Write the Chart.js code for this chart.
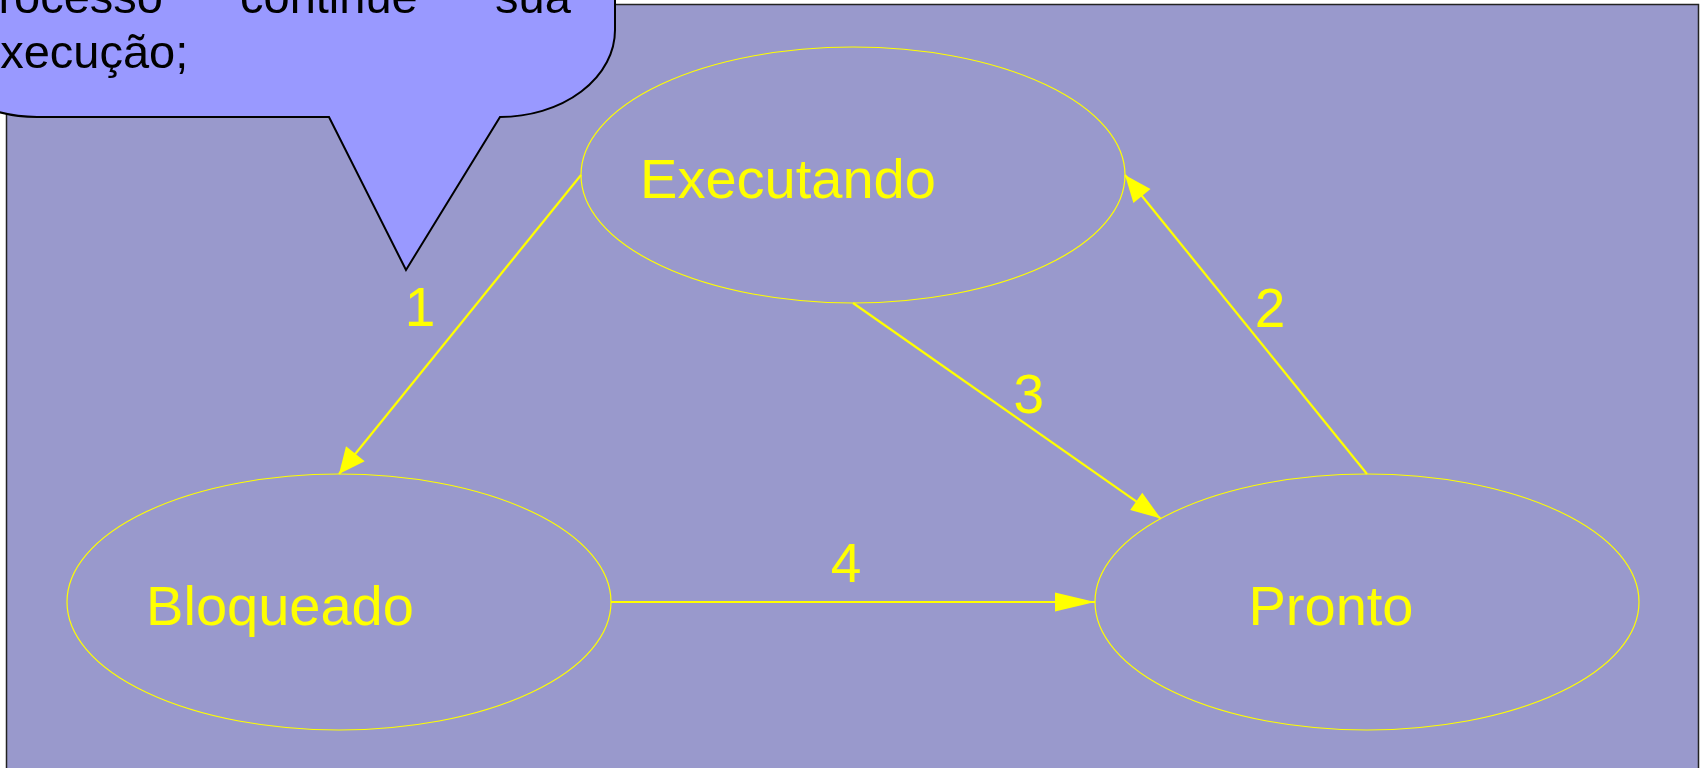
<!DOCTYPE html>
<html>
<head>
<meta charset="utf-8">
<script src="https://cdn.jsdelivr.net/npm/chart.js@4.4.1/dist/chart.umd.min.js"></script>
<style>
  html, body { margin: 0; padding: 0; background: #ffffff; overflow: hidden; }
  canvas { display: block; }
</style>
</head>
<body>
<canvas id="chart" width="1700" height="768"></canvas>
<script>
// States of the diagram (centre in diagram units)
const nodeNames = ["Executando", "Bloqueado", "Pronto"];
const nodeX = [853, 339, 1367];
const nodeY = [175, 602, 602];

// Transitions: from node / to node, and where on the ellipse they attach (degrees)
const edgeLabels = ["1", "2", "3", "4"];
const edgeFrom = [0, 2, 0, 1];
const edgeTo = [1, 0, 2, 2];
const edgeFromAngle = [180, 270, 90, 0];
const edgeToAngle = [270, 0, 220.7, 180];

// Speech bubble text (cut off at the left / top of the picture)
const bubbleLine1 = ["Processo", "continue", "sua"];
const bubbleLine2 = "execução;";

const RX = 272, RY = 128;
const YELLOW = "#ffff00";

function anchor(node, deg) {
  const a = deg * Math.PI / 180;
  return { x: nodeX[node] + RX * Math.cos(a), y: nodeY[node] + RY * Math.sin(a) };
}

const edgeDatasets = edgeLabels.map((lbl, i) => ({
  label: lbl,
  data: [anchor(edgeFrom[i], edgeFromAngle[i]), anchor(edgeTo[i], edgeToAngle[i])],
  showLine: true,
  borderColor: YELLOW,
  borderWidth: 2.2,
  pointRadius: 0,
}));

const nodeDataset = {
  label: "estados",
  data: nodeNames.map((n, i) => ({ x: nodeX[i], y: nodeY[i] })),
  pointRadius: 0,
  showLine: false,
};

const diagramPlugin = {
  id: "diagram",
  beforeDraw(chart) {
    const ctx = chart.ctx;
    ctx.save();
    ctx.fillStyle = "#ffffff";
    ctx.fillRect(0, 0, chart.width, chart.height);
    ctx.fillStyle = "#9999cc";
    ctx.strokeStyle = "#222222";
    ctx.lineWidth = 1.5;
    ctx.fillRect(6.5, 4.5, 1692, 780);
    ctx.strokeRect(6.5, 4.5, 1692, 780);
    ctx.restore();
  },
  beforeDatasetsDraw(chart) {
    const ctx = chart.ctx;
    const xs = chart.scales.x, ys = chart.scales.y;
    const meta = chart.getDatasetMeta(chart.data.datasets.length - 1);
    ctx.save();
    meta.data.forEach((pt, i) => {
      const rx = xs.getPixelForValue(nodeX[i] + RX) - pt.x;
      const ry = ys.getPixelForValue(nodeY[i] + RY) - pt.y;
      ctx.beginPath();
      ctx.ellipse(pt.x, pt.y, rx, ry, 0, 0, Math.PI * 2);
      ctx.strokeStyle = YELLOW;
      ctx.lineWidth = 1.2;
      ctx.stroke();
    });
    ctx.restore();
  },
  afterDatasetsDraw(chart) {
    const ctx = chart.ctx;
    const nodeDx = [-65, -59, -36];
    const labelOff = [[-40, 1], [24, 2], [22, 2], [-7, -20]];
    const headLen = [26, 27, 30, 40];
    const headHw = [12, 11, 10.5, 9.5];
    ctx.save();
    ctx.fillStyle = YELLOW;
    // arrow heads
    edgeLabels.forEach((lbl, i) => {
      const pts = chart.getDatasetMeta(i).data;
      const a = pts[0], b = pts[1];
      const ang = Math.atan2(b.y - a.y, b.x - a.x);
      const len = headLen[i], hw = headHw[i];
      ctx.beginPath();
      ctx.moveTo(b.x, b.y);
      ctx.lineTo(b.x - len * Math.cos(ang) + hw * Math.sin(ang), b.y - len * Math.sin(ang) - hw * Math.cos(ang));
      ctx.lineTo(b.x - len * Math.cos(ang) - hw * Math.sin(ang), b.y - len * Math.sin(ang) + hw * Math.cos(ang));
      ctx.closePath();
      ctx.fill();
      // edge number
      ctx.font = '55px "Liberation Sans", Arial, sans-serif';
      ctx.textAlign = "center";
      ctx.textBaseline = "alphabetic";
      ctx.fillText(lbl, (a.x + b.x) / 2 + labelOff[i][0], (a.y + b.y) / 2 + labelOff[i][1]);
    });
    // state names
    const meta = chart.getDatasetMeta(chart.data.datasets.length - 1);
    meta.data.forEach((pt, i) => {
      ctx.font = '56px "Liberation Sans", Arial, sans-serif';
      ctx.textAlign = "center";
      ctx.fillText(nodeNames[i], pt.x + nodeDx[i], pt.y + 23);
    });
    ctx.restore();
  },
  afterDraw(chart) {
    const ctx = chart.ctx;
    ctx.save();
    // callout bubble
    ctx.beginPath();
    ctx.moveTo(615, -10);
    ctx.lineTo(615, 30);
    ctx.ellipse(500, 30, 115, 87, 0, 0, Math.PI / 2);
    ctx.lineTo(406, 270);
    ctx.lineTo(329, 117);
    ctx.lineTo(37, 117);
    ctx.ellipse(37, 30, 115, 87, 0, Math.PI / 2, Math.PI);
    ctx.lineTo(-78, -10);
    ctx.closePath();
    ctx.fillStyle = "#9999ff";
    ctx.fill();
    ctx.strokeStyle = "#000000";
    ctx.lineWidth = 2;
    ctx.lineJoin = "miter";
    ctx.stroke();
    // bubble text
    ctx.fillStyle = "#000000";
    ctx.font = '47px "Liberation Sans", Arial, sans-serif';
    ctx.textBaseline = "alphabetic";
    ctx.textAlign = "right";
    ctx.fillText(bubbleLine1[0], 163, 13);
    ctx.textAlign = "left";
    ctx.fillText(bubbleLine1[1], 240, 13);
    ctx.fillText(bubbleLine1[2], 495, 13);
    ctx.fillText(bubbleLine2, -26, 68);
    ctx.restore();
  },
};

const ctx = document.getElementById("chart").getContext("2d");
new Chart(ctx, {
  type: "scatter",
  data: { datasets: [...edgeDatasets, nodeDataset] },
  options: {
    responsive: false,
    animation: false,
    devicePixelRatio: 1,
    events: [],
    layout: { padding: 0 },
    plugins: { legend: { display: false }, tooltip: { enabled: false } },
    scales: {
      x: { type: "linear", min: 0, max: 1700, display: false },
      y: { type: "linear", min: 0, max: 768, reverse: true, display: false },
    },
  },
  plugins: [diagramPlugin],
});
</script>
</body>
</html>
